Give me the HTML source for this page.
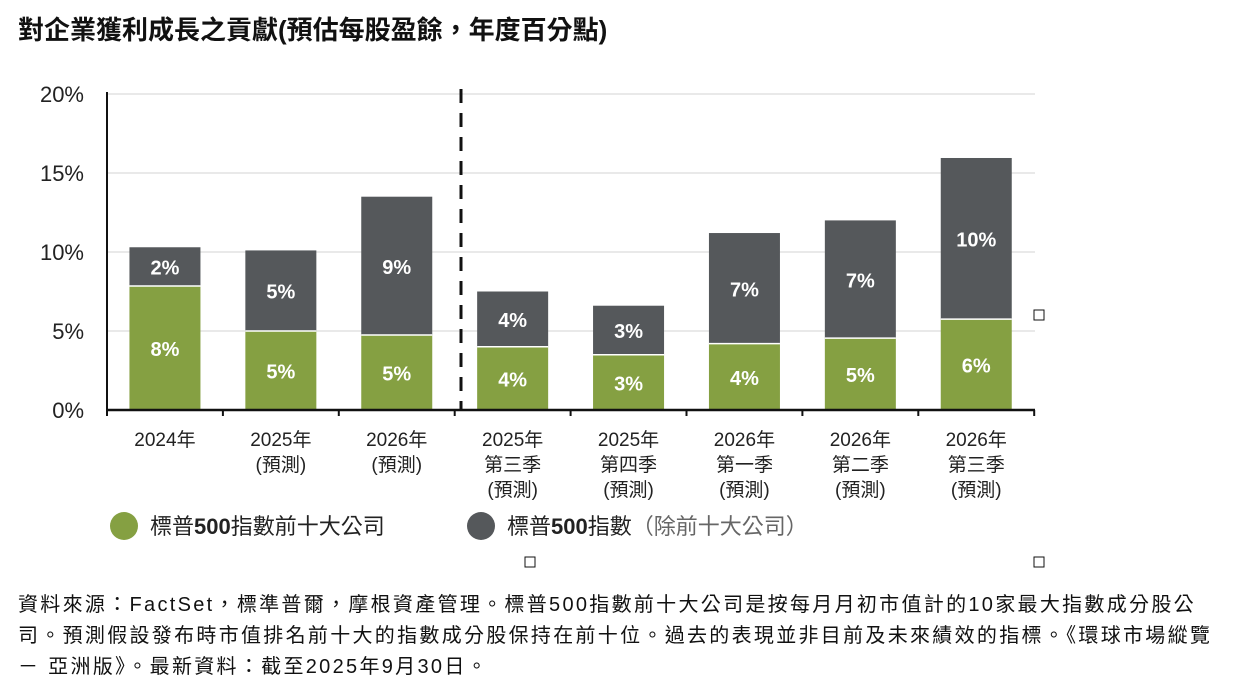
<!DOCTYPE html>
<html><head><meta charset="utf-8"><style>
body{margin:0;background:#fff;width:1236px;height:700px;overflow:hidden;font-family:"Liberation Sans","Noto Sans CJK TC",sans-serif;}
#title{position:absolute;left:18px;top:10px;font-size:26px;font-weight:bold;color:#111;white-space:nowrap;}
#note{position:absolute;left:18px;top:590px;width:1215px;font-size:20px;line-height:31px;color:#111;letter-spacing:2.3px;}
svg{position:absolute;left:0;top:0;}
</style></head><body>
<div id="title">對企業獲利成長之貢獻(預估每股盈餘，年度百分點)</div>
<svg id="chart" width="1236" height="580"></svg>
<div id="note">資料來源：FactSet，標準普爾，摩根資產管理。標普500指數前十大公司是按每月月初市值計的10家最大指數成分股公司。預測假設發布時市值排名前十大的指數成分股保持在前十位。過去的表現並非目前及未來績效的指標。《環球市場縱覽 － 亞洲版》。最新資料：截至2025年9月30日。</div>
<script>
const categories=[["2024年"],["2025年","(預測)"],["2026年","(預測)"],["2025年","第三季","(預測)"],["2025年","第四季","(預測)"],["2026年","第一季","(預測)"],["2026年","第二季","(預測)"],["2026年","第三季","(預測)"]];
const top10=[7.85,5.0,4.75,4.0,3.5,4.2,4.55,5.75];
const rest=[2.45,5.1,8.75,3.5,3.1,7.0,7.45,10.2];
const top10Labels=["8%","5%","5%","4%","3%","4%","5%","6%"];
const restLabels=["2%","5%","9%","4%","3%","7%","7%","10%"];
const yTicks=[0,5,10,15,20];
const NS="http://www.w3.org/2000/svg";
const svg=document.getElementById('chart');
const x0=107,x1=1035,y0=410,y1=94,band=115.9,bw=71;
const y=v=>y0-(v/20)*(y0-y1);
const xc=i=>x0+band*(i+0.5);
function mk(t,a){const e=document.createElementNS(NS,t);for(const k in a)e.setAttribute(k,a[k]);svg.appendChild(e);return e;}
yTicks.forEach(t=>{
  if(t>0){const g=mk('line',{x1:x0,x2:x1,y1:y(t),y2:y(t),stroke:'#e2e2e2','stroke-width':1.5});
  
  }
  const tx=mk('text',{x:84,y:y(t)+8,'text-anchor':'end','font-size':22,fill:'#222'});tx.textContent=t+'%';
  
  
});
categories.forEach((c,i)=>{
  const cx=xc(i);
  const g=mk('rect',{x:cx-bw/2,y:y(top10[i]),width:bw,height:y0-y(top10[i]),fill:'#85a042'});
  
  
  const r=mk('rect',{x:cx-bw/2,y:y(top10[i]+rest[i]),width:bw,height:y(top10[i])-y(top10[i]+rest[i]),fill:'#55585b'});
  
  
  mk('line',{x1:cx-bw/2,x2:cx+bw/2,y1:y(top10[i]),y2:y(top10[i]),stroke:'#fff','stroke-width':1.5});
  const l1=mk('text',{x:cx,y:(y(top10[i])+y0)/2+8,'text-anchor':'middle','font-size':20,'font-weight':'bold',fill:'#fff'});l1.textContent=top10Labels[i];
  
  
  const l2=mk('text',{x:cx,y:(y(top10[i])+y(top10[i]+rest[i]))/2+8,'text-anchor':'middle','font-size':20,'font-weight':'bold',fill:'#fff'});l2.textContent=restLabels[i];
  
  
  c.forEach((s,j)=>{const t=mk('text',{x:cx,y:446+j*25,'text-anchor':'middle','font-size':19,fill:'#222'});t.textContent=s;
  
  });
});
for(let i=0;i<=8;i++){mk('line',{x1:x0+band*i,x2:x0+band*i,y1:y0,y2:y0+6,stroke:'#111','stroke-width':2});}
const ax=mk('line',{x1:x0,x2:x0,y1:y1-2,y2:y0,stroke:'#111','stroke-width':2});


const xa=mk('line',{x1:x0,x2:x1,y1:y0,y2:y0,stroke:'#111','stroke-width':2.5});


const d=mk('line',{x1:461,x2:461,y1:89,y2:410,stroke:'#111','stroke-width':3,'stroke-dasharray':'14,10'});


const lg1=mk('circle',{cx:124,cy:526,r:14,fill:'#85a042'});


const lt1=mk('text',{x:150,y:534,'font-size':22,fill:'#222'});lt1.innerHTML='標普<tspan font-weight="bold">500</tspan>指數前十大公司';


const lg2=mk('circle',{cx:481,cy:526,r:14,fill:'#55585b'});


const lt2=mk('text',{x:507,y:534,'font-size':22,fill:'#222'});lt2.innerHTML='標普<tspan font-weight="bold">500</tspan>指數<tspan fill="#666">（除前十大公司）</tspan>';


[[1039,315],[530,562],[1039,562]].forEach(p=>{const h=mk('rect',{x:p[0]-5,y:p[1]-5,width:10,height:10,fill:'#fff',stroke:'#111','stroke-width':1});

});
</script>
</body></html>
